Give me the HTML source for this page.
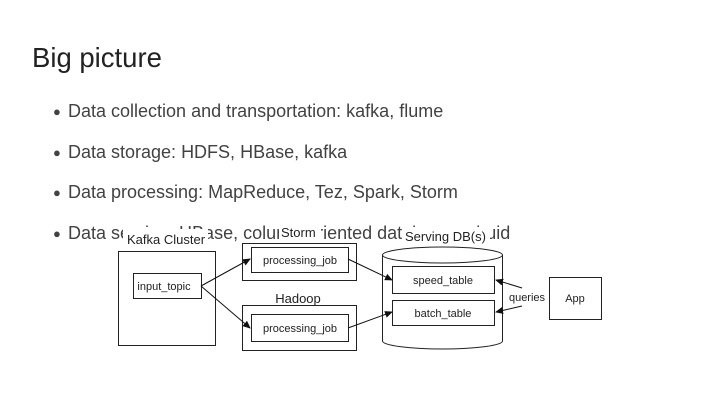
<!DOCTYPE html>
<html><head><style>
body{margin:0;width:720px;height:405px;background:#fff;position:relative;overflow:hidden;font-family:"Liberation Sans",Arial,sans-serif}
.t{position:absolute;left:32px;top:42px;font-size:27.5px;color:#222}
.b{position:absolute;left:53px;font-size:18px;color:#424242;white-space:nowrap}
.b span{display:inline-block;width:15px;font-size:13px;vertical-align:1px}
</style></head><body>
<div class="t">Big picture</div>
<div class="b" style="top:101px"><span>●</span>Data collection and transportation: kafka, flume</div>
<div class="b" style="top:142px"><span>●</span>Data storage: HDFS, HBase, kafka</div>
<div class="b" style="top:182px"><span>●</span>Data processing: MapReduce, Tez, Spark, Storm</div>
<div class="b" style="top:223px"><span>●</span>Data serving: HBase, column-oriented databases, druid</div>
<svg width="720" height="405" style="position:absolute;left:0;top:0" font-family="Liberation Sans, Arial, sans-serif" font-size="11" fill="#222">
<defs><marker id="a" markerWidth="8" markerHeight="8" refX="7" refY="4" orient="auto"><path d="M0,0.5L8,4L0,7.5z" fill="#111"/></marker></defs>
<g fill="#fff" stroke="none">
<rect x="123" y="229" width="85" height="19"/>
<rect x="279" y="222" width="42" height="18"/>
<rect x="402" y="227" width="88" height="18"/>
</g>
<text x="127" y="244" font-size="13">Kafka Cluster</text>
<text x="281" y="237" font-size="13">Storm</text>
<text x="405" y="241" font-size="13">Serving DB(s)</text>
<g fill="#fff" stroke="#222" stroke-width="1">
<rect x="118.5" y="251.5" width="97" height="94"/>
<rect x="133.5" y="273.5" width="68" height="25"/>
<rect x="242.5" y="243.5" width="114" height="37"/>
<rect x="251.5" y="247.5" width="97" height="25"/>
<rect x="242.5" y="305.5" width="114" height="45"/>
<rect x="251.5" y="314.5" width="97" height="27"/>
<path d="M382.5,255 L382.5,341 A60,8 0 0 0 502.5,341 L502.5,255"/>
<ellipse cx="442.5" cy="255" rx="60" ry="8"/>
<rect x="392.5" y="266.5" width="102" height="27"/>
<rect x="392.5" y="300.5" width="102" height="25"/>
<rect x="549.5" y="277.5" width="52" height="42"/>
</g>
<g stroke="#111" fill="none" marker-end="url(#a)">
<line x1="201" y1="286" x2="250" y2="259"/>
<line x1="201" y1="286" x2="250" y2="328"/>
<line x1="348" y1="259" x2="392" y2="280"/>
<line x1="348" y1="328" x2="392" y2="312"/>
<line x1="522" y1="288" x2="496" y2="280"/>
<line x1="522" y1="306" x2="496" y2="312"/>
</g>
<text x="164" y="290" text-anchor="middle">input_topic</text>
<text x="300" y="264" text-anchor="middle">processing_job</text>
<text x="300" y="332" text-anchor="middle">processing_job</text>
<text x="298" y="303" text-anchor="middle" font-size="13">Hadoop</text>
<text x="443" y="284" text-anchor="middle">speed_table</text>
<text x="443" y="317" text-anchor="middle">batch_table</text>
<rect x="505" y="290" width="44" height="14" fill="#fff"/>
<text x="527" y="301" text-anchor="middle">queries</text>
<text x="575" y="302" text-anchor="middle">App</text>
</svg>
</body></html>
